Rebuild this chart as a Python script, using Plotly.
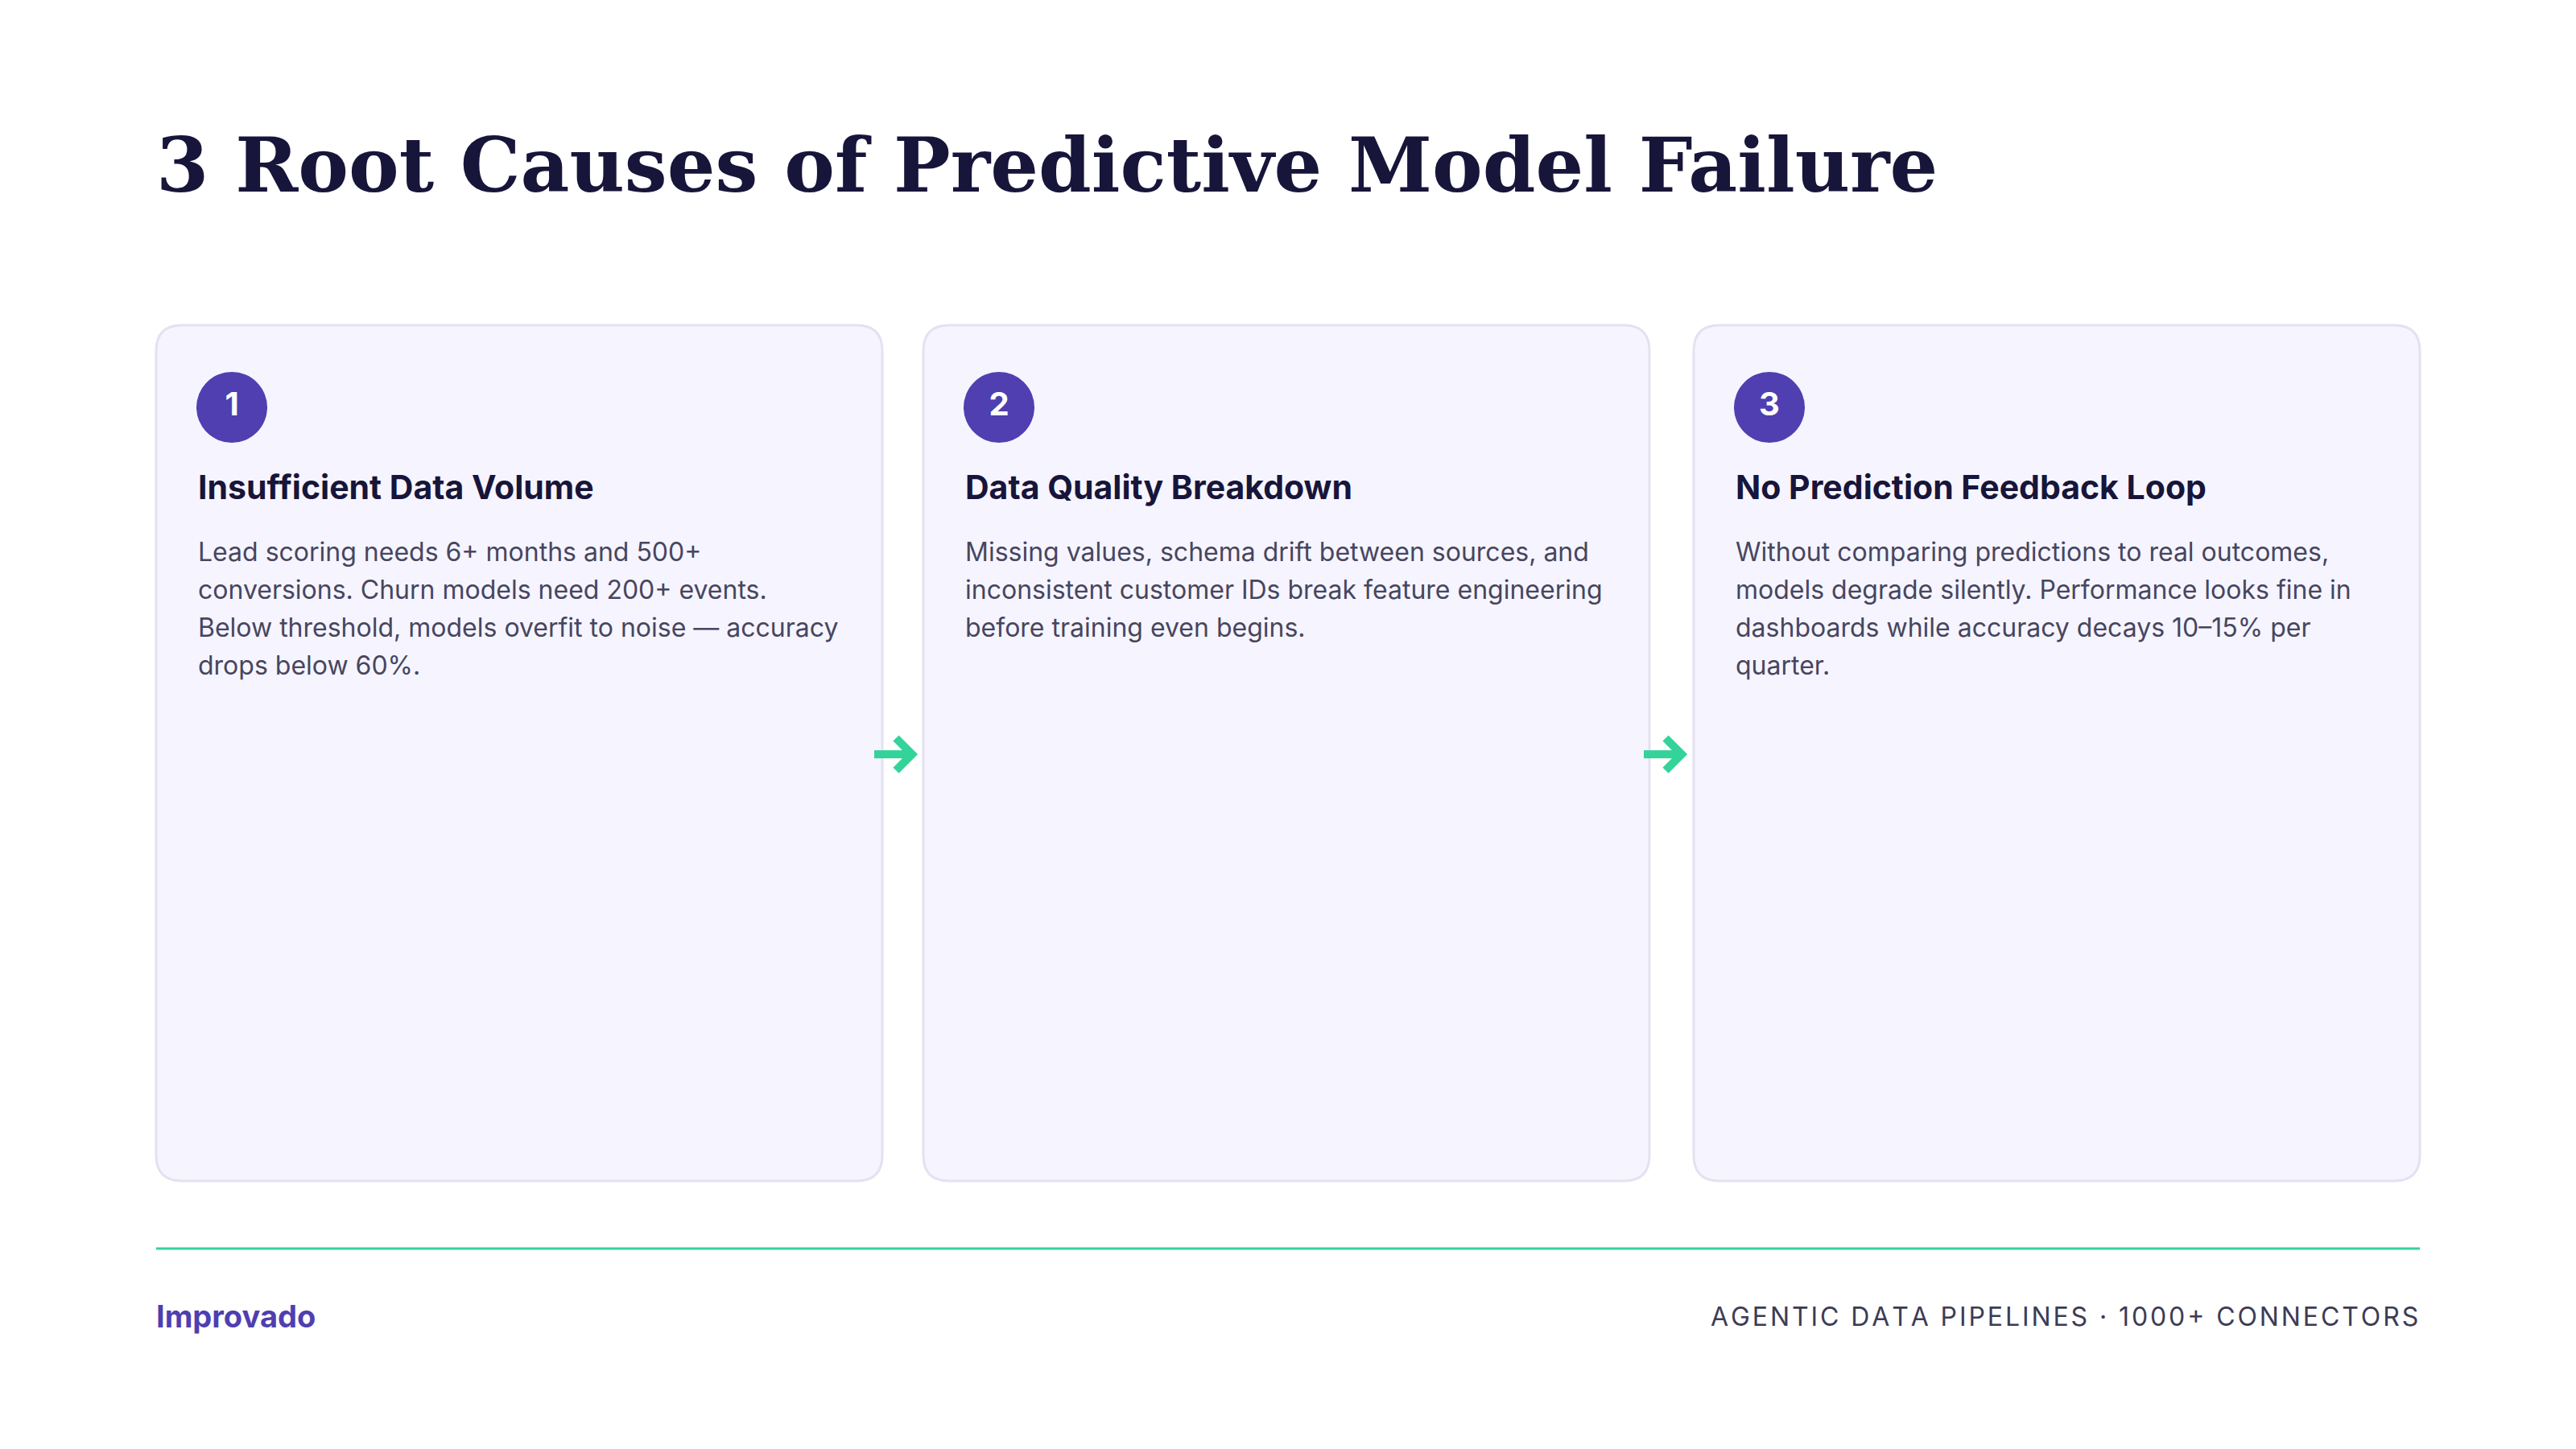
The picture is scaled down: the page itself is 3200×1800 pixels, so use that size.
import plotly.graph_objects as go

W, H = 3200, 1800

title = "3 Root Causes of Predictive Model Failure"
numbers = ["1", "2", "3"]
headings = ["Insufficient Data Volume", "Data Quality Breakdown", "No Prediction Feedback Loop"]
bodies = [
    ["Lead scoring needs 6+ months and 500+",
     "conversions. Churn models need 200+ events.",
     "Below threshold, models overfit to noise \u2014 accuracy",
     "drops below 60%."],
    ["Missing values, schema drift between sources, and",
     "inconsistent customer IDs break feature engineering",
     "before training even begins."],
    ["Without comparing predictions to real outcomes,",
     "models degrade silently. Performance looks fine in",
     "dashboards while accuracy decays 10\u201315% per",
     "quarter."],
]
brand = "Improvado"
tagline = "AGENTIC DATA PIPELINES \u00b7 1000+ CONNECTORS"

PURPLE = "#4f3fb0"
GREEN = "#34d399"
INK = "#17153a"
BODY = "#46465f"

OFF = 8  # page margin of the html body
card_x = [186, 1139, 2096]
card_w = 902
card_top, card_bot = 396, 1459


def rounded_rect(x0, y0, x1, y1, r):
    return (f"M{x0+r},{y0} L{x1-r},{y0} Q{x1},{y0} {x1},{y0+r} "
            f"L{x1},{y1-r} Q{x1},{y1} {x1-r},{y1} L{x0+r},{y1} "
            f"Q{x0},{y1} {x0},{y1-r} L{x0},{y0+r} Q{x0},{y0} {x0+r},{y0} Z")


fig = go.Figure()
shapes = []
annotations = []

annotations.append(dict(x=184, y=197, text="<b>" + title + "</b>", showarrow=False,
                        xanchor="left", yanchor="middle",
                        font=dict(family="DejaVu Serif", size=94, color=INK)))

for i, x0 in enumerate(card_x):
    shapes.append(dict(type="path", path=rounded_rect(x0, card_top, x0 + card_w, card_bot, 32),
                       fillcolor="#f6f4fe", line=dict(color="#e4e1f1", width=3), layer="below"))
    cx = x0 + 94
    fig.add_trace(go.Scatter(x=[cx], y=[498], mode="markers+text", text=["<b>" + numbers[i] + "</b>"],
                             textposition="middle center",
                             textfont=dict(family="Inter", size=40, color="white"),
                             marker=dict(size=88, color=PURPLE, line=dict(width=0)),
                             hoverinfo="skip", showlegend=False))
    annotations.append(dict(x=x0 + 50, y=597, text="<b>" + headings[i] + "</b>", showarrow=False,
                            xanchor="left", yanchor="middle",
                            font=dict(family="Inter", size=41, color=INK)))
    for j, line in enumerate(bodies[i]):
        annotations.append(dict(x=x0 + 50, y=677 + 47 * j, text=line, showarrow=False,
                                xanchor="left", yanchor="middle",
                                font=dict(family="Inter", size=32, color=BODY)))

# arrows between cards
for ax in [1078, 2034]:
    fig.add_trace(go.Scatter(x=[ax, ax + 44, None, ax + 27, ax + 47, ax + 27],
                             y=[929, 929, None, 909, 929, 949], mode="lines",
                             line=dict(color=GREEN, width=10), hoverinfo="skip", showlegend=False))

shapes.append(dict(type="line", x0=186, x1=2998, y0=1543, y1=1543, line=dict(color=GREEN, width=3)))

annotations.append(dict(x=184, y=1627, text="<b>" + brand + "</b>", showarrow=False,
                        xanchor="left", yanchor="middle",
                        font=dict(family="Inter", size=38, color=PURPLE)))
annotations.append(dict(x=2998, y=1627, text="\u200a".join(tagline), showarrow=False,
                        xanchor="right", yanchor="middle",
                        font=dict(family="Inter", size=32, color="#3c3c55")))

fig.update_layout(width=W, height=H, margin=dict(l=0, r=0, t=0, b=0),
                  paper_bgcolor="white", plot_bgcolor="white",
                  shapes=shapes, annotations=annotations,
                  xaxis=dict(range=[0, W], visible=False, fixedrange=True),
                  yaxis=dict(range=[H, 0], visible=False, fixedrange=True))

fig.write_html("out.html", config={"displayModeBar": False})
